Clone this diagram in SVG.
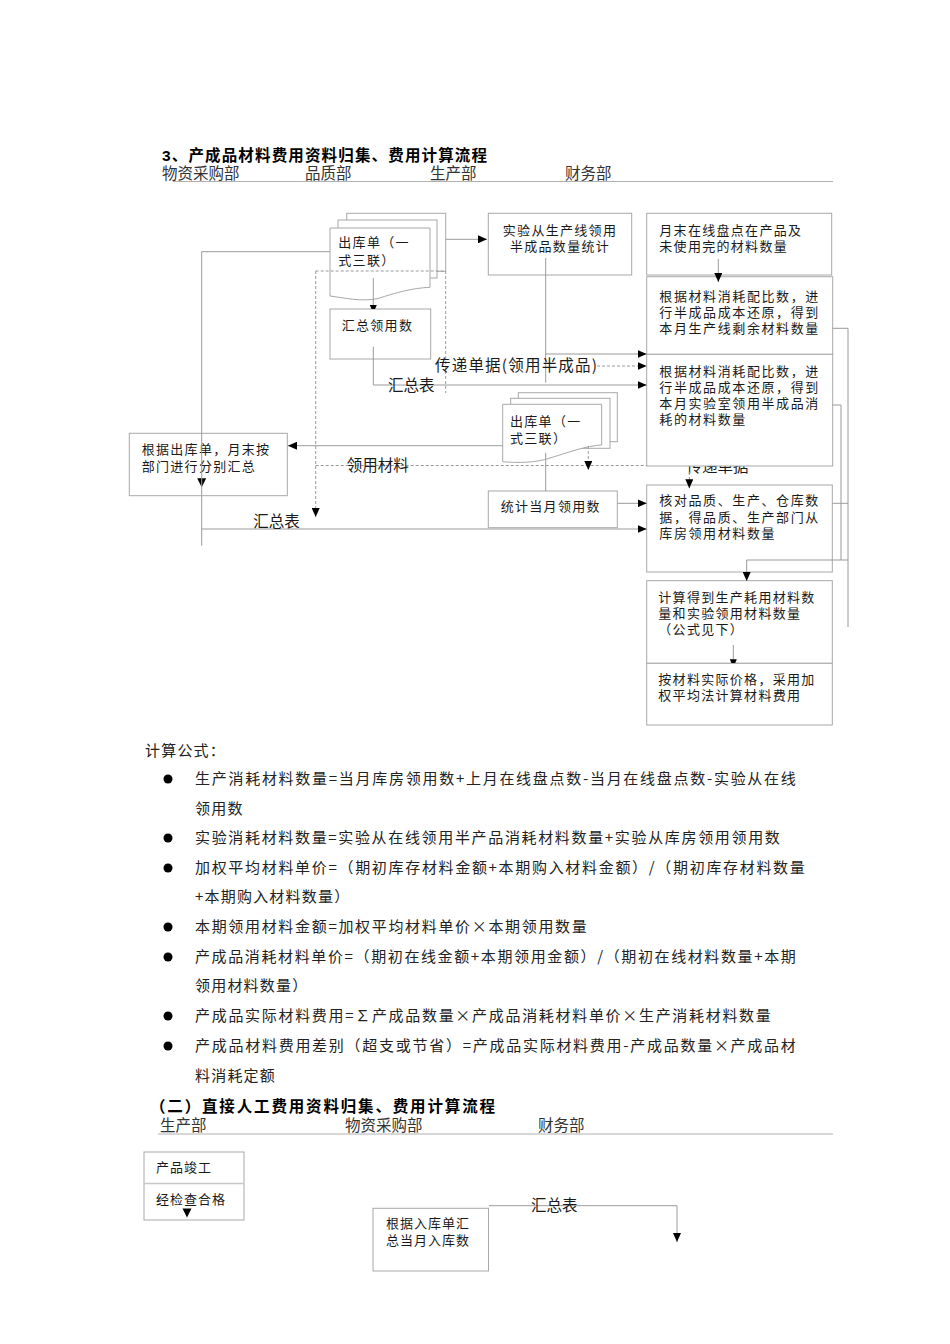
<svg xmlns="http://www.w3.org/2000/svg" width="950" height="1344" viewBox="0 0 950 1344">
<style>
.ln{stroke:#9a9a9a;stroke-width:1;fill:none}
.dl{stroke:#9a9a9a;stroke-width:1;fill:none;stroke-dasharray:3,2}
.box{fill:#fff;stroke:#a8a8a8;stroke-width:1}
.t{font-family:"Noto Sans CJK SC",sans-serif;font-size:13px;fill:#1a1a1a;letter-spacing:1.3px}
.tw{letter-spacing:1.6px}
.lb{font-family:"Noto Sans CJK SC",sans-serif;font-size:15.5px;fill:#1a1a1a}
.h{font-family:"Noto Sans CJK SC",sans-serif;font-size:15.5px;fill:#333}
.ti{font-family:"Liberation Sans","Noto Sans CJK SC",sans-serif;font-size:15.5px;font-weight:bold;fill:#000}
.f{font-family:"Noto Sans CJK SC",sans-serif;font-size:15px;fill:#222;letter-spacing:1.2px}
.ah{fill:#000}
</style>
<defs>
<marker id="a" viewBox="0 0 10 10" refX="10" refY="5" markerWidth="9" markerHeight="8" markerUnits="userSpaceOnUse" orient="auto" preserveAspectRatio="none"><path d="M0,0 L10,5 L0,10 z" fill="#000"/></marker>
<marker id="as" viewBox="0 0 10 10" refX="10" refY="5" markerWidth="4" markerHeight="7" markerUnits="userSpaceOnUse" orient="auto" preserveAspectRatio="none"><path d="M0,0 L10,2.5 L10,7.5 L0,10 z" fill="#000"/></marker>
</defs>

<!-- Section 1 headings -->
<g id="heading1">
<text class="ti" x="162" y="161" textLength="325" lengthAdjust="spacing">3、产成品材料费用资料归集、费用计算流程</text>
<text class="h" x="162" y="179">物资采购部</text>
<text class="h" x="305" y="179">品质部</text>
<text class="h" x="430" y="179">生产部</text>
<text class="h" x="565" y="179">财务部</text>
<line x1="173" y1="181.5" x2="833" y2="181.5" stroke="#b0b0b0" stroke-width="1"/>
</g>

<!-- label partly hidden under box -->
<g id="label-under">
<text class="lb" x="686.5" y="471.5">传递单据</text>
</g>

<!-- Nodes -->
<g id="doc1">
<rect class="box" x="346.7" y="213.3" width="99" height="58"/>
<rect class="box" x="338" y="220" width="99" height="58"/>
<path class="box" d="M330,228 H430 V287.3 C412,288 395,293 378,298.5 C362,302 345,298 330,296 Z"/>
<text class="t" x="338.3" y="247">出库单（一</text>
<text class="t" x="338.3" y="265">式三联）</text>
</g>
<g id="n-huizonglingyong">
<rect class="box" x="330" y="309" width="100.7" height="50"/>
<text class="t" x="341.7" y="330">汇总领用数</text>
</g>
<g id="n-shiyan">
<rect class="box" x="488.3" y="213.3" width="143.4" height="61.7"/>
<text class="t" x="560" y="235" text-anchor="middle">实验从生产线领用</text>
<text class="t" x="560" y="251" text-anchor="middle">半成品数量统计</text>
</g>
<g id="n-yuemo">
<rect class="box" x="646.7" y="213.3" width="185" height="61.7"/>
<text class="t" x="659.3" y="235">月末在线盘点在产品及</text>
<text class="t" x="659.3" y="251">未使用完的材料数量</text>
</g>
<g id="n-peibi1">
<rect class="box" x="646.7" y="276.7" width="186" height="77.6"/>
<text class="t tw" x="659.3" y="301">根据材料消耗配比数，进</text>
<text class="t tw" x="659.3" y="317">行半成品成本还原，得到</text>
<text class="t tw" x="659.3" y="333">本月生产线剩余材料数量</text>
</g>
<g id="n-peibi2">
<rect class="box" x="646.7" y="354.3" width="186" height="111.7"/>
<text class="t tw" x="659.3" y="376">根据材料消耗配比数，进</text>
<text class="t tw" x="659.3" y="392">行半成品成本还原，得到</text>
<text class="t tw" x="659.3" y="408">本月实验室领用半成品消</text>
<text class="t tw" x="659.3" y="424">耗的材料数量</text>
</g>
<g id="doc2">
<rect class="box" x="518.3" y="392.7" width="99" height="49"/>
<rect class="box" x="510.7" y="398.3" width="99.3" height="50"/>
<path class="box" d="M502.7,404.3 H601.7 V445 C585,446 570,452 550,458 C535,463 518,463 502.7,461.7 Z"/>
<text class="t" x="510" y="426">出库单（一</text>
<text class="t" x="510" y="443">式三联）</text>
</g>
<g id="n-genjuchuku">
<rect x="129.3" y="433.3" width="158" height="62.4" fill="none" stroke="#a8a8a8"/>
<text class="t" x="141.7" y="454">根据出库单，月末按</text>
<text class="t" x="141.7" y="471">部门进行分别汇总</text>
<polygon class="ah" points="197.2,478.3 206.2,478.3 201.7,487.3"/>
</g>
<g id="n-tongji">
<rect class="box" x="488.3" y="491" width="129" height="36.7"/>
<text class="t" x="500.7" y="511">统计当月领用数</text>
</g>
<g id="n-hedui">
<rect class="box" x="646.7" y="485" width="185.6" height="87"/>
<text class="t tw" x="659.3" y="505">核对品质、生产、仓库数</text>
<text class="t tw" x="659.3" y="522">据，得品质、生产部门从</text>
<text class="t tw" x="659.3" y="538">库房领用材料数量</text>
</g>
<g id="n-jisuan">
<rect class="box" x="646.7" y="580.7" width="185.6" height="82.6"/>
<text class="t" x="658.3" y="602">计算得到生产耗用材料数</text>
<text class="t" x="658.3" y="618">量和实验领用材料数量</text>
<text class="t" x="658.3" y="634">（公式见下）</text>
</g>
<g id="n-jiaquan">
<rect class="box" x="646.7" y="663.3" width="185.6" height="61.7"/>
<text class="t" x="658.3" y="684">按材料实际价格，采用加</text>
<text class="t" x="658.3" y="700">权平均法计算材料费用</text>
</g>

<!-- Connectors -->
<g id="connectors">
<path class="ln" d="M445.7,239.3 H487" marker-end="url(#a)"/>
<path class="ln" d="M330,251.7 H201.7 V545.7"/>
<path class="ln" d="M373.3,278 V309" marker-end="url(#as)"/>
<path class="ln" d="M373.3,346.7 V385 H646.7" marker-end="url(#a)"/>
<path class="dl" d="M315.7,271 H445.7 V393"/>
<path class="dl" d="M315.7,271 V517" marker-end="url(#a)"/>
<path class="dl" d="M597,366 H646.7" marker-end="url(#a)"/>
<path class="ln" d="M545.7,258 V382.7"/>
<path class="ln" d="M545.7,354 H646.7" marker-end="url(#a)"/>
<path class="ln" d="M718.3,259 V282" marker-end="url(#a)"/>
<path class="ln" d="M502.7,445.7 H288" marker-end="url(#a)"/>
<path class="dl" d="M315.7,465.5 H646.7"/>
<path class="dl" d="M588.3,446 V470" marker-end="url(#a)"/>
<path class="ln" d="M545.7,452.7 V491"/>
<path class="dl" d="M689.3,472 V488.3" marker-end="url(#a)"/>
<path class="ln" d="M617.3,503.3 H646.7" marker-end="url(#a)"/>
<path class="ln" d="M201.7,529 H646.7" marker-end="url(#a)"/>
<path class="ln" d="M832.5,328.3 H848 V627"/>
<path class="ln" d="M832.5,405 H841 V560"/>
<path class="ln" d="M832.5,503.3 H848"/>
<path class="ln" d="M746.7,560 H848"/>
<path class="ln" d="M746.7,560 V581" marker-end="url(#a)"/>
<path class="ln" d="M733.3,645 V663.3" marker-end="url(#as)"/>
<text class="lb" x="388" y="391">汇总表</text>
<text class="lb" x="435" y="371" textLength="162" lengthAdjust="spacing">传递单据(领用半成品)</text>
<text class="lb" x="346.7" y="471">领用材料</text>
<text class="lb" x="253.3" y="527">汇总表</text>
</g>

<!-- Formulas -->
<g id="formulas">
<text class="f" x="145" y="756">计算公式：</text>
<circle cx="168" cy="779" r="4.5" fill="#000"/>
<circle cx="168" cy="838" r="4.5" fill="#000"/>
<circle cx="168" cy="868" r="4.5" fill="#000"/>
<circle cx="168" cy="927" r="4.5" fill="#000"/>
<circle cx="168" cy="957" r="4.5" fill="#000"/>
<circle cx="168" cy="1016" r="4.5" fill="#000"/>
<circle cx="168" cy="1046" r="4.5" fill="#000"/>
<text class="f" x="195" y="784" textLength="602" lengthAdjust="spacing">生产消耗材料数量=当月库房领用数+上月在线盘点数-当月在线盘点数-实验从在线</text>
<text class="f" x="195" y="814">领用数</text>
<text class="f" x="195" y="843" textLength="586" lengthAdjust="spacing">实验消耗材料数量=实验从在线领用半产品消耗材料数量+实验从库房领用领用数</text>
<text class="f" x="195" y="873" textLength="611" lengthAdjust="spacing">加权平均材料单价=（期初库存材料金额+本期购入材料金额）/（期初库存材料数量</text>
<text class="f" x="195" y="902">+本期购入材料数量）</text>
<text class="f" x="195" y="932" textLength="393" lengthAdjust="spacing">本期领用材料金额=加权平均材料单价×本期领用数量</text>
<text class="f" x="195" y="962" textLength="602" lengthAdjust="spacing">产成品消耗材料单价=（期初在线金额+本期领用金额）/（期初在线材料数量+本期</text>
<text class="f" x="195" y="991">领用材料数量）</text>
<text class="f" x="195" y="1021" textLength="577" lengthAdjust="spacing">产成品实际材料费用=∑产成品数量×产成品消耗材料单价×生产消耗材料数量</text>
<text class="f" x="195" y="1051" textLength="602" lengthAdjust="spacing">产成品材料费用差别（超支或节省）=产成品实际材料费用-产成品数量×产成品材</text>
<text class="f" x="195" y="1081">料消耗定额</text>
</g>

<!-- Section 2 -->
<g id="heading2">
<text class="ti" x="150" y="1112" textLength="345" lengthAdjust="spacing">（二）直接人工费用资料归集、费用计算流程</text>
<text class="h" x="160" y="1131">生产部</text>
<text class="h" x="345" y="1131">物资采购部</text>
<text class="h" x="538" y="1131">财务部</text>
<line x1="158" y1="1134" x2="833" y2="1134" stroke="#b0b0b0" stroke-width="1"/>
</g>
<g id="n-jungong">
<rect class="box" x="144" y="1152" width="100" height="68"/>
<line x1="144" y1="1183.5" x2="244" y2="1183.5" stroke="#c8c8c8" stroke-width="1.5"/>
<text class="t" x="156" y="1172" style="letter-spacing:1px">产品竣工</text>
<text class="t" x="156" y="1204" style="letter-spacing:1px">经检查合格</text>
<polygon class="ah" points="182.5,1208.5 191.5,1208.5 187,1217.5"/>
</g>
<g id="n-ruku">
<rect class="box" x="373" y="1208.3" width="115.5" height="62.7"/>
<text class="t" x="386" y="1228" style="letter-spacing:1px">根据入库单汇</text>
<text class="t" x="386" y="1245" style="letter-spacing:1px">总当月入库数</text>
</g>
<g id="connectors2">
<path class="ln" d="M489,1205.7 H677 V1242" marker-end="url(#a)"/>
<text class="lb" x="531" y="1211">汇总表</text>
</g>
</svg>
